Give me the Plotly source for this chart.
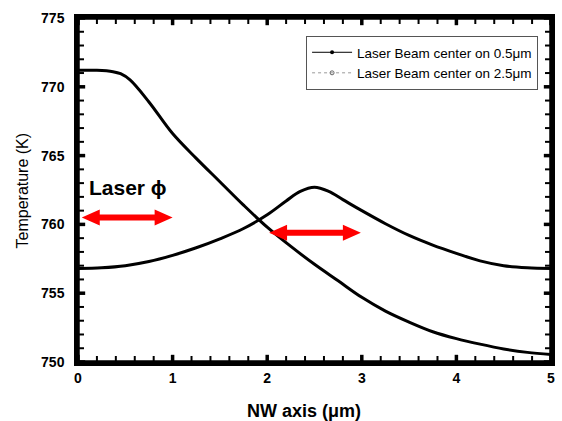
import plotly.graph_objects as go

x_vals = [0, 0.2, 0.37, 0.45, 0.55, 0.75, 1.0, 1.25, 1.5, 1.75, 2.0, 2.25, 2.5, 2.75,
          3.0, 3.25, 3.5, 3.75, 4.0, 4.25, 4.5, 4.75, 5.0]
temp_center_05 = [771.2, 771.2, 771.1, 770.95, 770.5, 768.9, 766.6, 764.8, 763.1, 761.4,
                  759.8, 758.4, 757.1, 755.9, 754.7, 753.7, 752.9, 752.2, 751.7, 751.3,
                  750.95, 750.7, 750.55]
x_vals2 = [0, 0.25, 0.5, 0.75, 1.0, 1.25, 1.5, 1.75, 2.0, 2.2, 2.35, 2.5, 2.65, 2.8,
           3.0, 3.25, 3.5, 3.75, 4.0, 4.25, 4.5, 4.75, 5.0]
temp_center_25 = [756.8, 756.85, 757.0, 757.3, 757.75, 758.3, 758.95, 759.7, 760.7, 761.7,
                  762.4, 762.7, 762.4, 761.8, 761.0, 760.05, 759.2, 758.5, 757.9, 757.35,
                  757.0, 756.85, 756.8]
legend_names = ["Laser Beam center on 0.5μm", "Laser Beam center on 2.5μm"]
x_ticks = [0, 1, 2, 3, 4, 5]
y_ticks = [750, 755, 760, 765, 770, 775]
x_minor = [round(0.2 * i, 1) for i in range(26) if i % 5 != 0]
y_minor = [750 + i for i in range(26) if i % 5 != 0]

FONT = "Liberation Sans"
W, H = 562, 421
ML, MR, MT, MB = 78, 7, 18, 59
pw, ph = W - ML - MR, H - MT - MB
X_RANGE, Y_RANGE = [0, 5], [750, 775]
px_per_x = pw / (X_RANGE[1] - X_RANGE[0])
px_per_y = ph / (Y_RANGE[1] - Y_RANGE[0])

fig = go.Figure()
fig.add_trace(go.Scatter(x=x_vals, y=temp_center_05, mode="lines",
                         line=dict(color="black", width=3, shape="spline", smoothing=1.0),
                         showlegend=False, hoverinfo="skip"))
fig.add_trace(go.Scatter(x=x_vals2, y=temp_center_25, mode="lines",
                         line=dict(color="black", width=3, shape="spline", smoothing=1.0),
                         showlegend=False, hoverinfo="skip"))
fig.add_trace(go.Scatter(x=[None], y=[None], mode="lines+markers", name=legend_names[0],
                         line=dict(color="black", width=1),
                         marker=dict(symbol="circle", size=4, color="black")))
fig.add_trace(go.Scatter(x=[None], y=[None], mode="lines+markers", name=legend_names[1],
                         line=dict(color="#999999", width=1, dash="dot"),
                         marker=dict(symbol="circle-open", size=4, color="#666666")))


# inside tick marks on all four sides (drawn as line markers)
def add_ticks(vals, axis, length_px, width):
    if axis == "x":
        off = (length_px / 2) / px_per_y
        xs = list(vals) + list(vals)
        ys = [Y_RANGE[0] + off] * len(vals) + [Y_RANGE[1] - off] * len(vals)
        sym = "line-ns"
    else:
        off = (length_px / 2) / px_per_x
        xs = [X_RANGE[0] + off] * len(vals) + [X_RANGE[1] - off] * len(vals)
        ys = list(vals) + list(vals)
        sym = "line-ew"
    fig.add_trace(go.Scatter(x=xs, y=ys, mode="markers", showlegend=False,
                             hoverinfo="skip", cliponaxis=False,
                             marker=dict(symbol=sym, size=length_px, color="black",
                                         line=dict(color="black", width=width))))


add_ticks(x_ticks, "x", 6, 3.5)
add_ticks(x_minor, "x", 5, 2)
add_ticks(y_ticks, "y", 6, 3.5)
add_ticks(y_minor, "y", 5, 2)


def double_arrow(x0, x1, y, head_len=0.19, head_h=0.58, shaft_h=0.22):
    return (f"M {x0} {y} L {x0+head_len} {y+head_h} L {x0+head_len} {y+shaft_h} "
            f"L {x1-head_len} {y+shaft_h} L {x1-head_len} {y+head_h} L {x1} {y} "
            f"L {x1-head_len} {y-head_h} L {x1-head_len} {y-shaft_h} "
            f"L {x0+head_len} {y-shaft_h} L {x0+head_len} {y-head_h} Z")


shapes = [
    dict(type="path", xref="x", yref="y", path=double_arrow(0.04, 1.0, 760.5),
         fillcolor="#ff0000", line=dict(width=0)),
    dict(type="path", xref="x", yref="y", path=double_arrow(2.02, 2.99, 759.4),
         fillcolor="#ff0000", line=dict(width=0)),
    dict(type="rect", xref="paper", yref="paper", x0=0, x1=1, y0=0, y1=1,
         line=dict(color="black", width=3.5), fillcolor="rgba(0,0,0,0)"),
]

fig.update_layout(
    width=W, height=H,
    margin=dict(l=ML, r=MR, t=MT, b=MB),
    paper_bgcolor="white", plot_bgcolor="white",
    xaxis=dict(range=X_RANGE, tickvals=x_ticks, ticktext=[f"<b>{t}</b>" for t in x_ticks],
               showline=True, linecolor="#000000", linewidth=3.5, mirror=True,
               ticks="inside", ticklen=6, tickwidth=3, tickcolor="rgba(0,0,0,0)",
               showgrid=False, zeroline=False,
               tickfont=dict(family=FONT, size=14, color="black")),
    yaxis=dict(range=Y_RANGE, tickvals=y_ticks,
               showline=True, linecolor="#000000", linewidth=3.5, mirror=True,
               ticks="outside", ticklen=7, tickwidth=3, tickcolor="rgba(0,0,0,0)",
               showgrid=False, zeroline=False,
               tickfont=dict(family=FONT, size=14, color="black", weight="bold")),
    legend=dict(x=(308 - ML) / pw, y=1 - (36 - MT) / ph, xanchor="left", yanchor="top",
                bordercolor="#555555", borderwidth=1, bgcolor="white",
                font=dict(family=FONT, size=13.5, color="black"),
                tracegroupgap=0, itemwidth=40),
    shapes=shapes,
)

fig.add_annotation(text="Laser \u03d5", x=0.09, y=762.65, xref="x", yref="y", xanchor="left",
                   yanchor="middle", showarrow=False,
                   font=dict(family=FONT, size=21, color="black", weight="bold"))
fig.add_annotation(text="NW axis (μm)", x=(306 - ML) / pw, y=1 - (411 - MT) / ph,
                   xref="paper", yref="paper", xanchor="center", yanchor="middle",
                   showarrow=False,
                   font=dict(family=FONT, size=18, color="black", weight="bold"))
fig.add_annotation(text="Temperature (K)", x=(22 - ML) / pw, y=1 - (190 - MT) / ph,
                   xref="paper", yref="paper", xanchor="center", yanchor="middle",
                   showarrow=False, textangle=-90,
                   font=dict(family=FONT, size=16, color="black"))

fig.write_html("out.html")
